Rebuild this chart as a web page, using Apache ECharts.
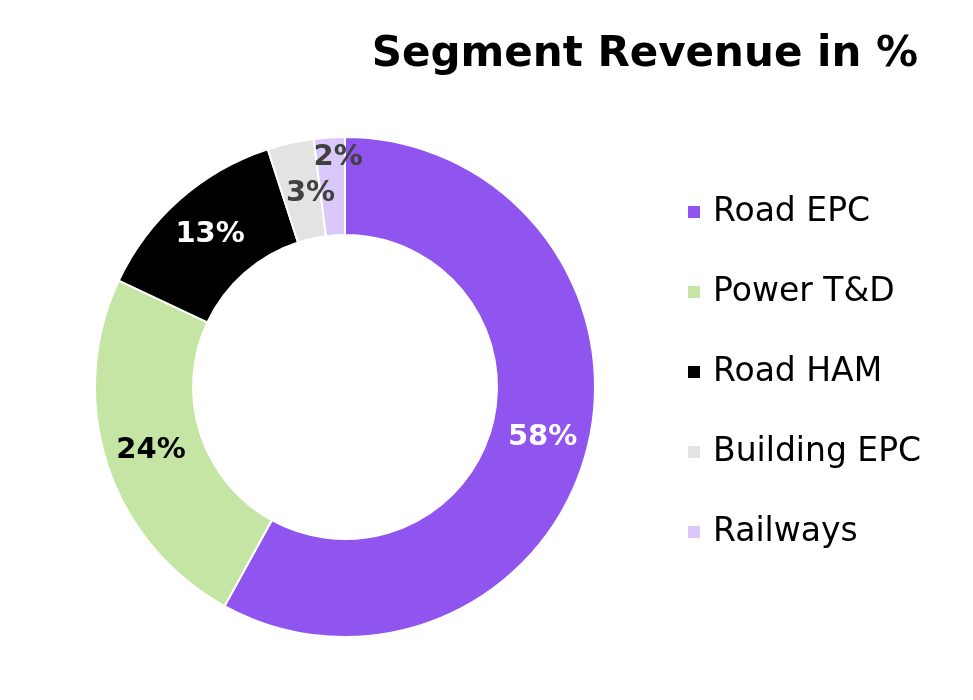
<!DOCTYPE html>
<html>
<head>
<meta charset="utf-8">
<script src="https://cdn.jsdelivr.net/npm/echarts@6/dist/echarts.min.js"></script>
<style>
  html, body { margin: 0; padding: 0; background: #fff; }
  #main { width: 973px; height: 700px; }
</style>
</head>
<body>
<div id="main"></div>
<script>
const segments = ['Road EPC', 'Power T&D', 'Road HAM', 'Building EPC', 'Railways'];
const shares = [58, 24, 13, 3, 2];
const colors = ['#9155EF', '#C5E5A4', '#000000', '#E3E3E3', '#D9C8F9'];
const labelColors = ['#ffffff', '#000000', '#ffffff', '#404040', '#404040'];

const chartDom = document.getElementById('main');
const myChart = echarts.init(chartDom);

const option = {
  animation: false,
  title: {
    text: 'Segment Revenue in %',
    right: 50,
    top: 29,
    textStyle: {
      fontFamily: 'DejaVu Sans',
      fontWeight: 'bold',
      fontSize: 42,
      color: '#000'
    }
  },
  legend: {
    orient: 'vertical',
    left: 686,
    top: 195,
    padding: 0,
    itemWidth: 14,
    itemHeight: 14,
    itemGap: 46,
    icon: 'rect',
    data: segments,
    textStyle: {
      fontFamily: 'DejaVu Sans',
      fontSize: 33,
      lineHeight: 34,
      color: '#000',
      padding: [0, 0, 0, 7]
    }
  },
  series: [
    {
      type: 'pie',
      center: [345, 387],
      radius: [152, 250],
      startAngle: 90,
      clockwise: true,
      avoidLabelOverlap: false,
      itemStyle: { borderColor: '#fff', borderWidth: 2 },
      label: {
        show: true,
        position: 'inside',
        formatter: '{c}%',
        fontFamily: 'DejaVu Sans',
        fontWeight: 'bold',
        fontSize: 29
      },
      // small slices at the top: nudge their labels like the original
      labelLayout: function (params) {
        if (params.dataIndex === 3) return { dx: 10, dy: 6 };
        if (params.dataIndex === 4) return { dx: 6, dy: -26 };
        return {};
      },
      labelLine: { show: false },
      emphasis: { disabled: true },
      data: segments.map((name, i) => ({
        name: name,
        value: shares[i],
        itemStyle: { color: colors[i] },
        label: { color: labelColors[i] }
      }))
    }
  ]
};

option && myChart.setOption(option);
</script>
</body>
</html>
